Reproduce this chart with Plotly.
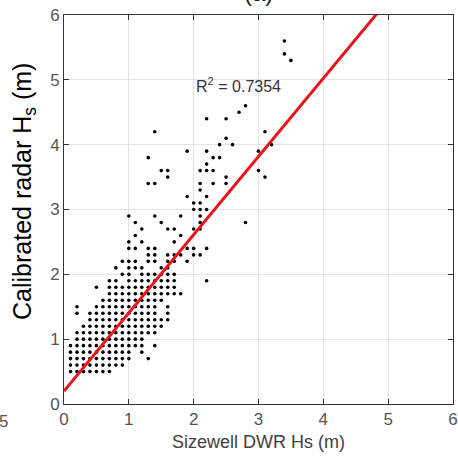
import plotly.graph_objects as go

# Radar Hs levels (m) and the DWR Hs values (in tenths of a metre) observed at each level
radar_levels = [0.5, 0.6, 0.7, 0.8, 0.9, 1.0, 1.1, 1.2, 1.3, 1.4, 1.5, 1.6, 1.7, 1.8, 1.9,
                2.0, 2.1, 2.2, 2.3, 2.4, 2.5, 2.6, 2.7, 2.8, 2.9, 3.0, 3.1, 3.2, 3.3, 3.4,
                3.5, 3.6, 3.7, 3.8, 3.9, 4.0, 4.1, 4.2, 4.4, 4.5, 4.6, 5.3, 5.4, 5.6]
dwr_tenths_by_level = [
    [1, 2, 3, 4, 5, 6, 7],
    [1, 2, 3, 4, 5, 6, 7, 8, 9],
    [1, 2, 3, 4, 5, 6, 7, 8, 9, 10, 13],
    [1, 2, 3, 4, 5, 6, 7, 8, 9, 10, 12],
    [1, 2, 3, 4, 5, 6, 7, 8, 9, 10, 11, 12, 14],
    [2, 3, 4, 5, 6, 7, 8, 9, 10, 11, 12],
    [2, 3, 4, 5, 6, 7, 8, 9, 10, 11, 12, 13, 14],
    [3, 4, 5, 6, 7, 8, 9, 10, 11, 12, 13, 14, 15],
    [4, 5, 6, 7, 8, 9, 10, 11, 12, 13, 14, 15, 16],
    [2, 4, 5, 6, 7, 8, 9, 10, 11, 12, 13, 14, 16],
    [2, 5, 6, 7, 8, 9, 10, 11, 12, 13, 14, 16],
    [6, 7, 8, 9, 10, 11, 12, 13, 14, 15],
    [7, 8, 9, 10, 11, 12, 13, 14, 15, 16, 17, 18],
    [5, 7, 8, 9, 10, 11, 12, 13, 14, 15, 16, 17],
    [7, 8, 10, 11, 12, 13, 14, 15, 16, 17, 22],
    [9, 10, 12, 13, 14, 15, 16, 17],
    [8, 10, 11, 12, 15, 16],
    [9, 10, 11, 13, 14, 16, 17, 19],
    [13, 14, 16, 17, 18, 20, 21],
    [10, 11, 13, 14, 19, 20, 22],
    [10, 12, 17],
    [11, 18],
    [12, 16, 17, 20, 21],
    [11, 15, 21, 28],
    [10, 14, 18, 21],
    [20, 21, 22],
    [20, 21],
    [19, 22],
    [21],
    [13, 14, 21, 23, 25],
    [16, 25, 31],
    [15, 16, 21, 22, 23, 30],
    [22],
    [13, 23, 24],
    [19, 22, 30],
    [24, 26, 32],
    [25],
    [14, 31],
    [22, 25],
    [27],
    [28],
    [35],
    [34],
    [34],
]

# Linear fit
fit_slope = 1.206
fit_intercept = 0.2
fit_x = [0.0, 6.0]
r_squared_text = "R<sup>2</sup> = 0.7354"

dwr_hs = []
radar_hs = []
for lvl, xs in zip(radar_levels, dwr_tenths_by_level):
    for t in xs:
        dwr_hs.append(t / 10.0)
        radar_hs.append(lvl)

fit_y = [fit_intercept + fit_slope * v for v in fit_x]

FONT = "Liberation Sans, Arial, sans-serif"

fig = go.Figure()
fig.add_trace(go.Scatter(
    x=dwr_hs, y=radar_hs, mode="markers",
    marker=dict(color="black", size=3.6, line=dict(width=0)),
    showlegend=False, hoverinfo="skip"))
fig.add_trace(go.Scatter(
    x=fit_x, y=fit_y, mode="lines",
    line=dict(color="#e8141c", width=3),
    showlegend=False, hoverinfo="skip"))

axis_common = dict(
    showgrid=True, gridcolor="#e3e3e3", gridwidth=1,
    showline=True, linecolor="#333333", linewidth=1, mirror="ticks",
    ticks="inside", ticklen=5, tickcolor="#333333",
    tickfont=dict(family=FONT, size=17, color="#555555"),
    zeroline=False, dtick=1, automargin=False,
)

fig.update_layout(
    width=458, height=460,
    margin=dict(l=64, r=5, t=15, b=56),
    paper_bgcolor="white", plot_bgcolor="white",
    xaxis=dict(range=[0, 6], tick0=0,
               title=dict(text="Sizewell DWR Hs (m)", standoff=6,
                          font=dict(family=FONT, size=18, color="#404040")),
               **axis_common),
    yaxis=dict(range=[0, 6], tick0=0, **axis_common),
    annotations=[
        dict(text="Calibrated radar H<sub>s</sub> (m)", textangle=-90,
             xref="paper", yref="paper", x=0, y=0.545, xshift=-40,
             xanchor="center", yanchor="middle", showarrow=False,
             font=dict(family=FONT, size=25, color="black")),
        dict(text=r_squared_text, xref="x", yref="y", x=2.0, y=4.92,
             xanchor="left", yanchor="middle", showarrow=False,
             font=dict(family=FONT, size=16, color="#333333")),
        dict(text="(a)", xref="paper", yref="paper", x=0.5, y=1, yshift=7,
             xanchor="center", yanchor="bottom", showarrow=False,
             font=dict(family=FONT, size=24, color="#222222")),
        dict(text="5", xref="paper", yref="paper", x=0, y=0, xshift=-61, yshift=-17,
             xanchor="center", yanchor="middle", showarrow=False,
             font=dict(family=FONT, size=17, color="#555555")),
    ],
)

fig.write_html("out.html")
